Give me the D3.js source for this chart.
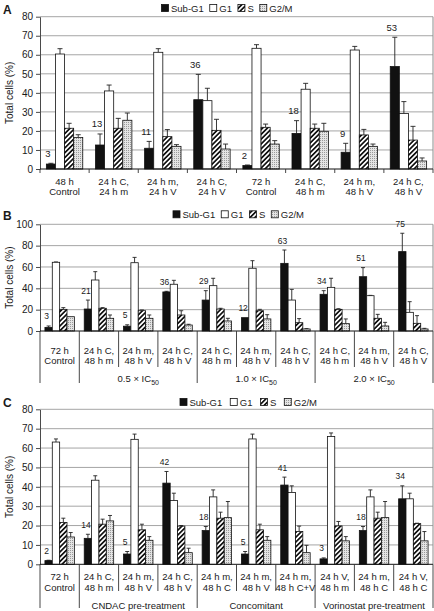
<!DOCTYPE html>
<html><head><meta charset="utf-8">
<script src="https://cdn.jsdelivr.net/npm/d3@7"></script>
<style>
body{margin:0;background:#fff}
svg{display:block}
text{font-family:"Liberation Sans",Arial,Helvetica,sans-serif;fill:#1a1a1a}
</style>
</head><body>
<svg id="chart" width="434" height="611"></svg>
<script>
// ---------- DATA ----------
const series = ["Sub-G1", "G1", "S", "G2/M"];

// Panel A
const categoriesA = [["48 h","Control"],["24 h C,","24 h m"],["24 h m,","24 h V"],["24 h C,","24 h V"],
                     ["72 h","Control"],["24 h C,","48 h m"],["24 h m,","48 h V"],["24 h C,","48 h V"]];
const subG1A  = [2.6, 12.6, 10.9, 36.4, 1.8, 18.7, 8.8, 53.8];
const subG1SdA= [0.4, 5.8, 3.6, 13.3, 0.3, 6.7, 4.7, 15.4];
const g1A     = [60.4, 41.0, 61.3, 35.9, 63.4, 41.9, 62.5, 29.2];
const g1SdA   = [2.8, 3.1, 1.9, 6.5, 1.9, 3.1, 1.9, 6.2];
const sA      = [21.4, 21.4, 17.0, 20.3, 21.9, 21.4, 17.9, 15.2];
const sSdA    = [2.6, 5.2, 3.7, 5.8, 1.7, 2.2, 2.9, 7.2];
const g2mA    = [16.6, 25.6, 11.9, 10.5, 13.1, 19.8, 11.9, 4.2];
const g2mSdA  = [1.4, 3.8, 0.9, 2.6, 1.8, 4.2, 1.2, 1.6];
const labelsA = [3, 13, 11, 36, 2, 18, 9, 53];
const yTicksA = [0, 10, 20, 30, 40, 50, 60, 70, 80];

// Panel B
const categoriesB = [["72 h","Control"],["24 h C,","48 h m"],["24 h m,","48 h V"],["24 h C,","48 h V"],
                     ["24 h C,","48 h m"],["24 h m,","48 h V"],["24 h C,","48 h V"],
                     ["24 h C,","48 h m"],["24 h m,","48 h V"],["24 h C,","48 h V"]];
const groupNamesB = ["", "0.5 × IC_50", "1.0 × IC_50", "2.0 × IC_50"];
const groupSpansB = [1, 3, 3, 3];
const subG1B  = [3.4, 20.6, 4.5, 36.6, 29.0, 12.5, 63.4, 34.4, 50.9, 74.4];
const subG1SdB= [1.3, 8.4, 1.3, 0.6, 8.8, 0, 12.5, 3.4, 8.5, 17.2];
const g1B     = [64.4, 47.8, 64.0, 43.8, 42.5, 58.8, 29.0, 40.9, 33.1, 17.5];
const g1SdB   = [0.3, 7.8, 5.0, 3.7, 6.9, 7.1, 10.0, 8.5, 0.3, 10.0];
const sB      = [20.3, 21.3, 19.0, 15.0, 20.6, 19.0, 7.8, 20.3, 11.9, 7.2];
const sSdB    = [1.6, 0.6, 0.7, 4.0, 0.7, 1.3, 3.8, 0.6, 3.7, 7.2];
const g2mB    = [13.4, 11.9, 11.9, 5.6, 9.4, 11.3, 1.9, 6.9, 4.7, 1.9];
const g2mSdB  = [0, 3.1, 3.1, 0.7, 2.5, 4.0, 0.3, 4.4, 3.4, 0.6];
const labelsB = [3, 21, 5, 36, 29, 12, 63, 34, 51, 75];
const yTicksB = [0, 20, 40, 60, 80, 100];

// Panel C
const categoriesC = [["72 h","Control"],["24 h C,","48 h m"],["24 h m,","48 h V"],["24 h C,","48 h V"],
                     ["24 h m,","48 h C"],["24 h m,","48 h V"],["24 h m,","48 h C+V"],
                     ["24 h V,","48 h m"],["24 h m,","48 h C"],["24 h V,","48 h C"]];
const groupNamesC = ["", "CNDAC pre-treatment", "Concomitant", "Vorinostat pre-treatment"];
const groupSpansC = [1, 3, 3, 3];
const subG1C  = [1.9, 13.4, 5.3, 41.9, 17.4, 5.3, 40.9, 2.8, 17.4, 33.8];
const subG1SdC= [0.2, 2.1, 1.3, 6.0, 2.1, 1.3, 4.1, 0.5, 2.1, 6.7];
const g1C     = [63.1, 43.4, 64.5, 32.9, 34.8, 64.7, 37.1, 66.0, 34.8, 33.8];
const g1SdC   = [1.6, 2.3, 2.7, 3.8, 3.6, 2.5, 3.4, 1.8, 3.6, 2.9];
const sC      = [21.6, 20.7, 17.8, 19.7, 23.8, 17.8, 16.9, 19.8, 23.8, 21.0];
const sSdC    = [2.2, 2.6, 2.9, 0.3, 3.1, 2.9, 2.8, 2.3, 3.1, 0.2];
const g2mC    = [14.1, 22.4, 12.4, 6.0, 24.1, 12.4, 6.0, 12.1, 24.1, 12.1];
const g2mSdC  = [2.3, 2.8, 1.9, 2.3, 8.3, 1.9, 3.8, 2.2, 8.3, 4.8];
const labelsC = [2, 14, 5, 42, 18, 5, 41, 3, 18, 34];
const yTicksC = [0, 10, 20, 30, 40, 50, 60, 70, 80];

// ---------- DRAWING ----------
const svg = d3.select("#chart");
const defs = svg.append("defs");
const hatch = defs.append("pattern").attr("id","hatch").attr("patternUnits","userSpaceOnUse")
  .attr("width",3.4).attr("height",3.4).attr("patternTransform","rotate(45)");
hatch.append("rect").attr("width",3.4).attr("height",3.4).attr("fill","#fff");
hatch.append("rect").attr("width",1.7).attr("height",3.4).attr("fill","#111");
const dots = defs.append("pattern").attr("id","dots").attr("patternUnits","userSpaceOnUse")
  .attr("width",2).attr("height",2);
dots.append("rect").attr("width",2).attr("height",2).attr("fill","#e4e4e4");
dots.append("rect").attr("width",1).attr("height",1).attr("fill","#9a9a9a");
const fills = ["#111", "#fff", "url(#hatch)", "url(#dots)"];

const X0 = 40, X1 = 433;

function richText(sel, str, subSize) {
  const parts = str.split("_");
  sel.append("tspan").text(parts[0]);
  if (parts[1]) sel.append("tspan").attr("font-size", subSize).attr("dy", 3).text(parts[1]);
}

function drawPanel(p) {
  const n = p.cats.length;
  const g = svg.append("g");
  const y = d3.scaleLinear().domain([0, d3.max(p.yTicks)]).range([p.y0, p.yTop]);
  const x = d3.scaleBand().domain(d3.range(n)).range([X0, X1]);
  const xs = d3.scaleBand().domain(series).range([0, x.bandwidth()]).paddingOuter(p.pad);

  // gridlines
  g.selectAll(null).data(p.yTicks.filter(t => t > 0)).join("line")
    .attr("x1", X0).attr("x2", X1).attr("y1", d => y(d)).attr("y2", d => y(d))
    .attr("stroke", "#a5a5a5").attr("stroke-width", 1);
  g.append("line").attr("x1", X1).attr("x2", X1).attr("y1", y(d3.max(p.yTicks))).attr("y2", p.y0)
    .attr("stroke", "#8c8c8c");

  // y axis
  const ax = g.append("g").attr("transform", `translate(${X0},0)`)
    .call(d3.axisLeft(y).tickValues(p.yTicks).tickSize(4).tickSizeOuter(0).tickPadding(3));
  ax.select(".domain").attr("stroke", "#4a4a4a");
  ax.selectAll(".tick line").attr("stroke", "#4a4a4a");
  ax.selectAll("text").attr("font-size", 10).attr("font-family", '"Liberation Sans",Arial,sans-serif').attr("fill", "#1a1a1a");

  // y title
  g.append("text").attr("transform", `translate(12.5,${(p.y0 + p.yTop) / 2}) rotate(-90)`)
    .attr("text-anchor", "middle").attr("font-size", 10).text("Total cells (%)");

  // bars
  const values = [p.subG1, p.g1, p.s, p.g2m];
  const sds = [p.subG1Sd, p.g1Sd, p.sSd, p.g2mSd];
  series.forEach((s, k) => {
    const data = values[k].map((v, i) => ({ i, v, sd: sds[k][i] }));
    const eb = g.selectAll(null).data(data.filter(d => d.sd > 0)).join("g");
    const cx = d => x(d.i) + xs(s) + xs.bandwidth() / 2;
    eb.append("line").attr("x1", cx).attr("x2", cx).attr("y1", d => y(d.v)).attr("y2", d => y(d.v + d.sd))
      .attr("stroke", "#222").attr("stroke-width", 0.9);
    eb.append("line").attr("x1", d => cx(d) - p.cap / 2).attr("x2", d => cx(d) + p.cap / 2)
      .attr("y1", d => y(d.v + d.sd)).attr("y2", d => y(d.v + d.sd))
      .attr("stroke", "#222").attr("stroke-width", 0.9);
    g.selectAll(null).data(data).join("rect")
      .attr("x", d => x(d.i) + xs(s)).attr("width", xs.bandwidth())
      .attr("y", d => y(d.v)).attr("height", d => p.y0 - y(d.v))
      .attr("fill", fills[k]).attr("stroke", "#111").attr("stroke-width", 0.8);
  });

  // value labels above Sub-G1
  g.selectAll(null).data(p.labels).join("text")
    .attr("x", (d, i) => x(i) + xs(series[0]) + xs.bandwidth() / 2 - p.labelShift)
    .attr("y", (d, i) => y(p.subG1[i] + p.subG1Sd[i]) - 6.5)
    .attr("text-anchor", "middle").attr("font-size", p.labelSize).text(d => d);

  // x axis
  g.append("line").attr("x1", X0).attr("x2", X1).attr("y1", p.y0).attr("y2", p.y0)
    .attr("stroke", "#111");
  const bounds = d3.range(n + 1);
  const majors = new Set([0]);
  if (p.spans) { let acc = 0; p.spans.forEach(sp => { acc += sp; majors.add(acc); }); }
  g.selectAll(null).data(bounds).join("line")
    .attr("x1", b => X0 + b * x.step()).attr("x2", b => X0 + b * x.step())
    .attr("y1", p.y0).attr("y2", b => (p.spans && majors.has(b)) ? p.majorEnd : p.innerEnd)
    .attr("stroke", "#333").attr("stroke-width", 0.9);

  // category labels
  const cl = g.selectAll(null).data(p.cats).join("text")
    .attr("text-anchor", "middle").attr("font-size", 9.5);
  cl.append("tspan").attr("x", (d, i) => x(i) + x.bandwidth() / 2).attr("y", p.catY1).text(d => d[0]);
  cl.append("tspan").attr("x", (d, i) => x(i) + x.bandwidth() / 2).attr("y", p.catY2).text(d => d[1]);

  // group labels
  if (p.spans) {
    let acc = 0;
    p.spans.forEach((sp, j) => {
      const cx = X0 + (acc + sp / 2) * x.step();
      acc += sp;
      if (!p.groups[j]) return;
      const t = g.append("text").attr("x", cx).attr("y", p.groupY).attr("text-anchor", "middle").attr("font-size", 9.5);
      richText(t, p.groups[j], 7);
    });
  }

  // legend
  let lx = p.legendX;
  series.forEach((s, k) => {
    g.append("rect").attr("x", lx).attr("y", p.legendY - 3.5).attr("width", 7).attr("height", 7)
      .attr("fill", fills[k]).attr("stroke", "#111").attr("stroke-width", 0.8);
    const t = g.append("text").attr("x", lx + 9.5).attr("y", p.legendY + 3.5).attr("font-size", 9.5).text(s);
    lx += 9.5 + t.node().getComputedTextLength() + p.legendGap;
  });

  // panel letter
  g.append("text").attr("x", 3).attr("y", p.letterY).attr("font-size", 12).attr("font-weight", "bold").text(p.letter);
}

drawPanel({
  letter: "A", letterY: 14, cats: categoriesA, yTicks: yTicksA, y0: 169, yTop: 16.7, pad: 0.7, cap: 5,
  subG1: subG1A, subG1Sd: subG1SdA, g1: g1A, g1Sd: g1SdA, s: sA, sSd: sSdA, g2m: g2mA, g2mSd: g2mSdA,
  labels: labelsA, labelSize: 9.5, labelShift: 3, innerEnd: 173, catY1: 184.5, catY2: 195,
  legendX: 161.5, legendY: 8, legendGap: 6
});
drawPanel({
  letter: "B", letterY: 220, cats: categoriesB, yTicks: yTicksB, y0: 331, yTop: 224.3, pad: 0.67, cap: 4,
  subG1: subG1B, subG1Sd: subG1SdB, g1: g1B, g1Sd: g1SdB, s: sB, sSd: sSdB, g2m: g2mB, g2mSd: g2mSdB,
  labels: labelsB, labelSize: 8.5, labelShift: 2, innerEnd: 367, majorEnd: 383, catY1: 353.5, catY2: 363.5,
  spans: groupSpansB, groups: groupNamesB, groupY: 381.5,
  legendX: 173, legendY: 214.3, legendGap: 6
});
drawPanel({
  letter: "C", letterY: 407, cats: categoriesC, yTicks: yTicksC, y0: 564.3, yTop: 409.3, pad: 0.67, cap: 4,
  subG1: subG1C, subG1Sd: subG1SdC, g1: g1C, g1Sd: g1SdC, s: sC, sSd: sSdC, g2m: g2mC, g2mSd: g2mSdC,
  labels: labelsC, labelSize: 8.5, labelShift: 2, innerEnd: 591, majorEnd: 608, catY1: 580, catY2: 590.5,
  spans: groupSpansC, groups: groupNamesC, groupY: 608.5,
  legendX: 180, legendY: 402, legendGap: 8
});
</script>
</body></html>
